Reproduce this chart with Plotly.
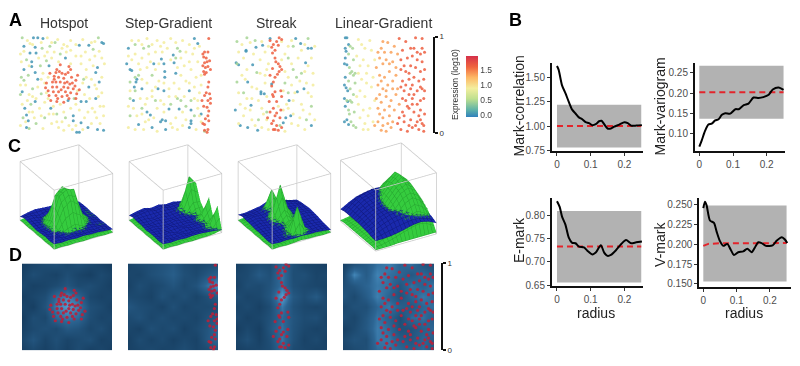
import itertools
import plotly.graph_objects as go

W, H = 800, 366
# ---------- Panel A / D point positions (percent of unit square)
hot_blue = [(17,99),(22,99),(28,98),(19,89),(13,83),(20,83),(15,74),(15,69),(6,66),(19,63),(22,56),(4,43),(19,33),(7,26),(9,19),(11,13),(9,6),(37,26),(67,1),(70,1),(80,6),(91,4),(98,3),(72,11),(63,18),(63,13),(78,33),(89,36),(93,53),(89,63),(91,68),(81,48),(70,91),(81,91),(96,94),(98,93),(54,78),(72,33),(57,34),(6,90),(35,70)]
hot_green = [(4,99),(27,88),(36,90),(42,94),(9,76),(3,58),(6,55),(11,60),(32,75),(2,40),(16,46),(26,41),(12,5),(5,16),(20,10),(44,20),(54,16),(64,36),(75,56),(92,99),(86,87),(48,82),(25,70),(14,30),(30,16)]
hot_pale = [(10,96),(33,99),(45,97),(52,92),(60,96),(74,97),(88,95),(6,85),(16,92),(26,94),(33,84),(41,84),(50,88),(60,86),(66,80),(77,84),(93,85),(3,74),(23,78),(28,62),(38,78),(46,74),(60,72),(72,72),(82,76),(96,78),(86,70),(8,50),(12,40),(22,48),(30,52),(32,42),(78,66),(74,52),(84,56),(96,58),(90,46),(96,42),(76,40),(85,26),(94,28),(98,18),(4,30),(12,22),(24,26),(30,32),(40,28),(48,30),(60,26),(70,24),(80,22),(90,16),(84,10),(74,4),(58,8),(46,6),(38,10),(28,5),(18,16),(35,20),(50,12),(2,8),(16,38),(44,12),(66,8),(94,10),
            (13,93),(38,94),(56,90),(66,92),(84,94),(2,82),(12,70),(30,80),(55,84),(72,80),(88,80),(99,72),(26,56),(34,58),(78,58),(88,50),(2,50),(10,34),(20,36),(34,36),(68,44),(82,36),(92,38),(8,12),(16,22),(26,18),(40,20),(52,22),(66,30),(76,16),(88,22),(52,3),(62,4),(98,28)]
hot_red = [(44,66),(47,64),(43,63),(57,63),(54,61),(60,66),(41,59),(46,58),(52,57),(61,58),(66,55),(39,53),(43,53),(48,53),(56,53),(59,51),(65,49),(39,48),(44,48),(52,48),(57,47),(63,46),(70,45),(40,43),(46,43),(54,43),(60,42),(67,41),(43,39),(50,38),(56,39),(35,39),(37,34),(49,45),(53,52),(45,36),(62,52),(50,62),(41,56),(58,36),(32,52),(31,47),(36,62),(48,71),(58,69),(68,60),(66,36),(44,33),(52,32),(34,44)]

step_blue = [(80,98),(84,93),(2,88),(0,72),(4,66),(6,65),(32,72),(44,72),(41,77),(55,81),(56,73),(45,64),(45,58),(12,56),(11,53),(9,48),(18,46),(37,46),(44,44),(74,44),(8,34),(62,25),(50,25),(76,24),(76,13),(76,10),(28,19),(14,9),(30,6),(40,12),(42,14),(46,13),(46,4),(74,6),(88,20),(24,22),(58,62)]
step_green = [(10,92),(26,90),(20,88),(60,88),(58,78),(63,85),(30,60),(10,58),(14,60),(4,53),(10,44),(4,36),(64,34),(60,36),(70,28),(18,26),(76,34),(80,18),(52,30),(34,34),(4,18),(92,2)]
step_pale = [(6,96),(14,96),(24,98),(36,96),(44,94),(52,98),(66,96),(74,92),(86,90),(10,82),(18,78),(26,82),(34,84),(42,84),(48,88),(70,84),(78,82),(84,74),(88,60),(6,76),(16,66),(24,68),(34,66),(68,70),(76,66),(82,58),(64,60),(56,52),(70,54),(24,52),(30,44),(38,54),(50,46),(62,46),(80,48),(86,42),(16,36),(24,36),(40,34),(50,38),(80,36),(12,18),(26,14),(36,26),(44,22),(58,16),(66,22),(84,26),(2,6),(10,4),(20,4),(36,2),(54,6),(66,8),(82,4),(88,12),
             (18,92),(30,92),(40,90),(58,94),(80,88),(2,80),(14,72),(28,74),(52,76),(64,78),(74,74),(60,68),(38,72),(4,44),(18,56),(34,48),(44,52),(74,52),(88,50),(8,26),(22,30),(30,38),(44,30),(58,38),(68,38),(84,34),(2,28),(22,12),(32,16),(52,10),(60,4),(70,14),(86,18),(18,20)]
step_red = [(97,98),(92,84),(96,84),(91,79),(94,78),(92,73),(96,69),(93,68),(91,64),(94,63),(92,61),(97,53),(96,48),(92,39),(89,34),(96,34),(99,31),(95,27),(97,23),(93,15),(97,13),(92,9),(96,4),(92,3),(95,1),(90,70),(98,75),(90,82),(95,74),(99,66),(94,42),(98,41),(91,28),(96,18),(90,10),(99,36)]

streak_blue = [(15,85),(6,71),(17,53),(33,43),(37,41),(21,29),(2,24),(8,8),(29,3),(63,16),(67,34),(77,43),(85,46),(87,73),(90,88),(94,88),(75,98),(81,93),(35,91),(27,89),(15,86),(44,98),(23,71),(46,51),(69,18),(60,11),(94,8),(17,6),(3,73),(33,41)]
streak_green = [(4,95),(16,99),(26,96),(90,98),(72,90),(66,78),(72,66),(82,62),(62,52),(76,58),(66,42),(28,63),(4,53),(12,42),(40,22),(30,14),(56,8),(88,14),(94,28),(4,72)]
streak_pale = [(10,92),(34,95),(58,95),(66,90),(82,86),(12,78),(24,82),(38,84),(42,72),(62,82),(78,78),(94,78),(32,62),(38,60),(62,64),(86,64),(96,62),(10,60),(22,48),(38,52),(60,44),(70,50),(88,52),(96,50),(6,42),(16,36),(30,34),(40,38),(64,30),(72,34),(82,30),(94,38),(8,30),(12,18),(20,24),(34,26),(40,14),(60,24),(72,20),(78,8),(86,4),(92,20),(6,10),(22,14),(34,6),(42,4),(62,2),(70,10),(80,16),(98,14),
               (20,94),(42,90),(70,96),(86,92),(98,90),(6,84),(32,76),(58,76),(70,72),(90,70),(16,66),(40,66),(66,58),(80,54),(28,46),(14,56),(74,42),(90,42),(22,36),(36,20),(26,8),(66,26),(84,24),(54,28),(14,26)]
streak_red = [(55,99),(52,95),(48,92),(46,89),(54,91),(50,86),(47,83),(50,78),(56,69),(55,64),(53,61),(50,58),(48,53),(46,49),(50,43),(48,38),(52,33),(48,26),(52,21),(50,18),(56,16),(48,13),(52,8),(48,4),(54,3),(50,4),(58,97),(44,96),(51,74),(54,72),(58,66),(47,67),(44,60),(47,40),(57,44),(58,38),(43,33),(44,22),(57,24),(46,10),(58,6),(41,16)]

lin_blue = [(2,99),(4,99),(6,92),(2,88),(3,85),(2,78),(1,72),(4,71),(2,58),(1,50),(3,47),(5,44),(1,36),(5,33),(2,28),(4,14),(1,12),(6,9)]
lin_green = [(8,90),(11,88),(6,82),(12,76),(7,68),(10,64),(14,62),(8,62),(12,60),(6,54),(14,52),(8,46),(12,40),(4,34),(8,34),(10,32),(13,22),(7,20),(9,12),(12,8),(15,6),(6,24)]
lin_pale = [(18,97),(22,92),(26,88),(16,80),(24,76),(30,70),(18,62),(22,56),(28,52),(34,48),(20,44),(26,38),(18,30),(24,24),(32,26),(20,16),(26,10),(30,4),(36,12),(38,34),(38,76),(34,86),(32,96),(20,70),(28,62),(16,38),(30,18),(36,58),(24,4)]
lin_orange = [(42,84),(46,88),(40,68),(48,72),(52,76),(44,60),(50,58),(56,64),(42,50),(48,46),(54,50),(60,54),(40,36),(46,32),(52,38),(58,34),(44,20),(50,24),(56,18),(42,12),(48,8),(54,10),(60,12),(38,8),(46,3),(52,2),(62,24),(60,74),(62,90),(54,94),(48,95),(58,84),(66,46),(64,40),(68,30),(44,78),(50,84),(56,72),(46,54),(52,44),(44,40),(56,28),(48,16),(42,26),(58,6),(64,60),(60,46),(66,82),(64,68)]
lin_red = [(68,98),(76,95),(88,99),(96,98),(72,86),(82,88),(70,76),(78,78),(84,80),(90,76),(96,74),(94,82),(99,84),(70,66),(76,64),(82,70),(88,68),(94,64),(99,66),(72,54),(80,56),(86,58),(92,54),(98,56),(74,44),(82,46),(90,44),(96,46),(76,34),(84,36),(90,30),(98,36),(72,22),(80,26),(86,22),(94,24),(99,20),(74,12),(82,14),(90,12),(96,10),(70,4),(78,2),(84,6),(92,4),(98,2),(99,44),(86,88),(74,70),(80,62),(90,84),(96,88),(70,48),(76,50),(84,50),(94,48),(80,40),(86,40),(94,34),(78,28),(84,30),(92,18),(74,18),(80,8),(88,8),(94,14),(98,8),(66,10),(68,16),(72,36)]

v_blue, v_green, v_pale, v_orange, v_red = 0.03, 0.45, 0.9, 1.35, 1.65
panel_titles = ["Hotspot", "Step-Gradient", "Streak", "Linear-Gradient"]

# ---------- Panel C surfaces: rows are y=0..1, columns x=0..1
grid3d = [0, .125, .25, .375, .5, .625, .75, .875, 1]
hot_g = [[.0,.01,.0,.01,.0,.01,.01,.0,.01],[.01,.03,.03,.02,.03,.04,.03,.03,.02],[.0,.02,.06,.12,.16,.10,.03,.04,.03],[.01,.03,.12,.40,.50,.40,.10,.03,.02],[.0,.02,.16,.55,.62,.60,.16,.04,.03],[.01,.04,.12,.50,.62,.50,.12,.03,.04],[.0,.03,.06,.18,.26,.18,.06,.03,.03],[.01,.04,.03,.04,.06,.04,.03,.04,.03],[.01,.03,.04,.03,.04,.03,.04,.03,.03]]
hot_b = [[.09,.08,.09,.08,.09,.08,.08,.07,.06],[.08,.10,.07,.09,.07,.09,.06,.08,.05],[.09,.06,.09,.06,.10,.07,.09,.05,.05],[.08,.08,.06,.10,.09,.08,.06,.08,.04],[.07,.06,.09,.07,.10,.08,.07,.06,.05],[.08,.08,.06,.09,.07,.07,.09,.06,.04],[.09,.09,.06,.08,.10,.06,.08,.06,.05],[.10,.11,.08,.11,.07,.10,.07,.08,.05],[.07,.10,.12,.11,.10,.12,.10,.07,.04]]
step_g = [[.0,.01,.0,.01,.0,.01,.01,.02,.05],[.01,.03,.02,.03,.02,.03,.03,.12,.39],[.0,.02,.03,.02,.03,.02,.03,.08,.14],[.01,.02,.02,.03,.02,.03,.05,.16,.41],[.0,.03,.03,.02,.03,.02,.03,.08,.12],[.01,.02,.02,.03,.02,.03,.08,.24,.22],[.0,.03,.03,.02,.03,.06,.18,.62,.46],[.01,.02,.02,.03,.02,.03,.07,.20,.14],[.01,.03,.03,.02,.03,.02,.03,.05,.03]]
step_b = [[.09,.08,.09,.08,.09,.09,.08,.07,.05],[.08,.09,.06,.09,.07,.08,.06,.07,.06],[.09,.07,.09,.06,.10,.07,.09,.07,.06],[.09,.09,.06,.10,.07,.09,.07,.09,.07],[.08,.10,.08,.07,.10,.08,.09,.08,.06],[.10,.08,.11,.09,.08,.10,.08,.11,.08],[.10,.11,.09,.12,.10,.11,.12,.12,.08],[.11,.13,.15,.12,.14,.11,.12,.11,.07],[.09,.12,.14,.11,.13,.10,.11,.08,.04]]
streak_g = [[.0,.01,.0,.01,.02,.01,.01,.0,.01],[.01,.03,.03,.12,.52,.14,.03,.03,.02],[.0,.02,.03,.08,.24,.09,.04,.03,.03],[.01,.03,.02,.07,.16,.08,.03,.02,.03],[.0,.02,.05,.14,.28,.14,.05,.03,.02],[.01,.03,.06,.24,.65,.22,.05,.03,.03],[.0,.02,.05,.14,.22,.14,.04,.02,.02],[.01,.03,.06,.18,.45,.16,.05,.03,.03],[.01,.02,.03,.06,.10,.06,.03,.02,.02]]
streak_b = [[.09,.08,.09,.08,.09,.08,.08,.07,.05],[.08,.09,.07,.09,.08,.09,.07,.08,.06],[.09,.09,.09,.08,.10,.09,.09,.08,.07],[.10,.10,.09,.11,.09,.11,.10,.10,.09],[.10,.12,.10,.12,.13,.13,.12,.13,.10],[.11,.14,.12,.14,.15,.15,.15,.12,.11],[.12,.15,.14,.16,.18,.18,.15,.14,.10],[.13,.12,.14,.16,.20,.20,.17,.13,.09],[.10,.10,.12,.14,.19,.17,.14,.10,.07]]
lin_g = [[.02,.02,.02,.03,.03,.03,.03,.03,.03],[.03,.05,.10,.17,.25,.33,.38,.32,.18],[.03,.07,.14,.24,.36,.48,.54,.46,.28],[.03,.08,.17,.30,.44,.58,.64,.56,.34],[.03,.08,.18,.33,.48,.62,.70,.60,.36],[.03,.08,.18,.34,.50,.64,.74,.62,.36],[.03,.07,.16,.30,.46,.60,.72,.60,.34],[.03,.06,.13,.24,.38,.50,.58,.48,.28],[.02,.04,.08,.14,.22,.30,.36,.30,.16]]
lin_b = [[.17,.17,.18,.20,.23,.26,.27,.24,.18],[.18,.22,.27,.31,.33,.34,.32,.28,.22],[.20,.26,.32,.36,.38,.38,.36,.30,.24],[.21,.28,.35,.38,.36,.38,.38,.32,.26],[.22,.30,.36,.38,.38,.40,.40,.34,.27],[.22,.31,.38,.41,.42,.43,.42,.36,.28],[.22,.32,.40,.44,.46,.46,.43,.36,.28],[.22,.32,.40,.44,.46,.45,.42,.34,.26],[.20,.27,.33,.36,.38,.36,.33,.28,.20]]

# ---------- Panel D density maps: rows bottom to top
grid2d = [0, 12.5, 25, 37.5, 50, 62.5, 75, 87.5, 100]
dens_hot = [[.18,.28,.20,.30,.20,.32,.18,.26,.16],[.26,.42,.24,.36,.24,.30,.36,.20,.24],[.20,.30,.36,.30,.46,.40,.26,.34,.20],[.14,.34,.28,.60,.70,.62,.34,.24,.28],[.24,.18,.40,.72,.90,.74,.36,.30,.18],[.16,.26,.34,.62,.76,.58,.28,.22,.26],[.28,.20,.24,.32,.42,.30,.34,.26,.18],[.20,.34,.26,.22,.34,.24,.18,.30,.22],[.16,.24,.32,.36,.26,.36,.28,.20,.14]]
dens_step = [[.20,.24,.30,.22,.26,.34,.24,.30,.42],[.18,.32,.22,.30,.20,.28,.22,.44,.60],[.26,.20,.36,.28,.34,.20,.30,.42,.62],[.30,.38,.26,.34,.26,.30,.24,.38,.48],[.44,.34,.30,.22,.36,.24,.30,.30,.34],[.30,.28,.22,.38,.28,.36,.24,.36,.50],[.20,.34,.26,.32,.42,.30,.40,.66,.86],[.26,.24,.36,.42,.52,.36,.30,.44,.56],[.22,.30,.34,.40,.46,.32,.26,.30,.34]]
dens_streak = [[.18,.22,.26,.32,.62,.30,.26,.20,.24],[.24,.36,.20,.36,.68,.38,.22,.30,.18],[.16,.28,.18,.42,.66,.40,.28,.22,.26],[.30,.20,.26,.38,.62,.42,.32,.36,.20],[.22,.30,.20,.34,.70,.38,.28,.24,.30],[.34,.24,.28,.44,.92,.46,.34,.48,.26],[.20,.34,.30,.40,.66,.36,.30,.26,.22],[.26,.30,.48,.36,.68,.34,.36,.24,.28],[.18,.28,.34,.32,.62,.36,.24,.22,.18]]
dens_lin = [[.22,.30,.36,.62,.66,.60,.52,.62,.40],[.28,.40,.34,.70,.68,.50,.44,.60,.50],[.18,.30,.46,.72,.62,.38,.40,.54,.62],[.34,.26,.44,.68,.56,.34,.62,.66,.48],[.26,.38,.36,.60,.70,.54,.46,.60,.66],[.42,.30,.50,.74,.58,.40,.58,.70,.60],[.34,.44,.58,.70,.66,.44,.66,.56,.70],[.26,.78,.50,.76,.66,.60,.46,.62,.48],[.20,.36,.48,.66,.74,.58,.66,.42,.36]]

# ---------- Panel B curves
mc_r = [0,.005,.015,.025,.035,.045,.055,.065,.075,.085,.095,.105,.115,.125,.132,.14,.15,.16,.17,.185,.2,.21,.22,.235,.252]
mc_v = [1.62,1.58,1.42,1.34,1.25,1.17,1.13,1.09,1.07,1.04,1.03,1.01,1.02,1.05,1.055,1.02,.975,.975,.995,1.015,1.04,1.03,1.005,1.005,1.01]
mv_r = [0,.007,.017,.027,.037,.047,.057,.067,.077,.092,.107,.117,.132,.146,.161,.176,.19,.206,.218,.235,.25]
mv_v = [.067,.082,.106,.122,.124,.132,.135,.146,.15,.149,.16,.16,.17,.174,.189,.188,.19,.196,.209,.214,.208]
em_r = [0,.008,.015,.025,.035,.045,.055,.065,.08,.09,.105,.115,.13,.14,.15,.16,.175,.19,.205,.22,.235,.252]
em_v = [.83,.818,.797,.78,.752,.741,.74,.733,.731,.724,.716,.72,.736,.72,.713,.715,.725,.738,.747,.74,.742,.744]
vm_r = [0,.005,.01,.02,.032,.04,.05,.06,.072,.082,.092,.105,.12,.132,.145,.157,.165,.175,.188,.208,.22,.236,.245,.252]
vm_v = [.2455,.2537,.249,.23,.227,.216,.204,.198,.2005,.1935,.1865,.19,.191,.1945,.19,.1975,.2025,.2015,.198,.1985,.2045,.209,.206,.2015]
band_r = [0, .25]
mc_lo, mc_hi, mc_ref = .78, 1.22, 1.0
mv_lo, mv_hi, mv_ref = .136, .268, .202
em_lo, em_hi, em_ref = .656, .809, .733
vm_lo, vm_hi = .153, .249
vm_ref_r, vm_ref_v = [0, .015, .05, .25], [.198, .2005, .2012, .2015]

# ---------- Helpers
def X(p): return p / W
def Y(p): return 1 - p / H
def xdom(a, b): return [X(a), X(b)]
def ydom(t, b): return [Y(b), Y(t)]

fig = go.Figure()
layout = dict(width=W, height=H, margin=dict(l=0, r=0, t=0, b=0), paper_bgcolor="white", plot_bgcolor="white",
              showlegend=False, font=dict(family="Liberation Sans, Arial, sans-serif", color="#222"))
annots = []
def note(text, x, y, size, color="#222", bold=False, angle=0):
    annots.append(dict(text=f"<b>{text}</b>" if bold else text, x=X(x), y=Y(y), xref="paper", yref="paper",
                       showarrow=False, font=dict(size=size, color=color), textangle=angle,
                       xanchor="center", yanchor="middle"))

hidden = dict(visible=False, fixedrange=True)

# Panel A
a_boxes = [(17, 107), (125, 213), (232, 318), (342, 427)]
a_sets = [[(hot_blue, v_blue), (hot_green, v_green), (hot_pale, v_pale), (hot_red, v_red)],
          [(step_blue, v_blue), (step_green, v_green), (step_pale, v_pale), (step_red, v_red)],
          [(streak_blue, v_blue), (streak_green, v_green), (streak_pale, v_pale), (streak_red, v_red)],
          [(lin_blue, v_blue), (lin_green, v_green), (lin_pale, v_pale), (lin_orange, v_orange), (lin_red, v_red)]]
title_x = [64, 168, 276, 383]
for i, (box, groups) in enumerate(zip(a_boxes, a_sets)):
    n = i + 1
    px, py, pv = [], [], []
    for pts, v in groups:
        px += [p[0] for p in pts]; py += [p[1] for p in pts]; pv += [v] * len(pts)
    fig.add_trace(go.Scatter(x=px, y=py, mode="markers", xaxis=f"x{n}", yaxis=f"y{n}", hoverinfo="skip", cliponaxis=False,
                             marker=dict(size=3, color=pv, coloraxis="coloraxis", opacity=.85, line=dict(width=0))))
    layout[f"xaxis{n}"] = dict(hidden, domain=xdom(*box), range=[-2, 102], anchor=f"y{n}")
    if n < 4:
        layout[f"yaxis{n}"] = dict(hidden, domain=ydom(32.5, 133.5), range=[-1, 101], anchor=f"x{n}")
    else:
        layout[f"yaxis{n}"] = dict(domain=ydom(33.5, 132.5), range=[0, 100], anchor="free", position=X(434), side="right",
                                   showgrid=False, zeroline=False, showline=True, linecolor="#111", linewidth=2,
                                   ticks="outside", ticklen=3, tickwidth=2, tickcolor="#111", tickvals=[0, 100],
                                   ticktext=["0", "1"], tickfont=dict(size=8, color="#333"), fixedrange=True)
    note(panel_titles[i], title_x[i], 19.5, 14, color="#333")

layout["coloraxis"] = dict(cmin=-.07, cmax=1.97,
    colorscale=[[0, "#2f80bd"], [.12, "#5fb3a8"], [.3, "#bfe08f"], [.47, "#f3ee9e"], [.65, "#fdb765"], [.82, "#f0653f"], [1, "#d5304a"]],
    colorbar=dict(thickness=12, lenmode="pixels", len=61, x=X(466), xanchor="left", y=Y(84.5), yanchor="middle",
                  tickvals=[0, .5, 1, 1.5], ticktext=["0.0", "0.5", "1.0", "1.5"], ticks="", outlinewidth=0,
                  tickfont=dict(size=8.5, color="#444"), xpad=0, ypad=0, ticklabelposition="outside"))
note("Expression (log10)", 455, 83, 8.5, color="#333", angle=-90)

# Panel C
scene_boxes = [(5, 128, 136.5, 259.5), (114, 237, 136.5, 259.5), (223, 346, 136.5, 259.5), (327, 450, 136.5, 259.5)]
surfaces = [(hot_g, hot_b), (step_g, step_b), (streak_g, streak_b), (lin_g, lin_b)]
cube_scale = [1.13, 1.13, 1.13, 1.17]
palette3d = (("#35cc3e", "#25a52f"), ("#1a29ad", "#10197f"))
edges = [(a, b) for a, b in itertools.combinations(list(itertools.product((0, 1), repeat=3)), 2)
         if sum(u != v for u, v in zip(a, b)) == 1]
fx, fy, fz = [], [], []
for a, b in edges:
    fx += [a[0], b[0], None]; fy += [a[1], b[1], None]; fz += [a[2], b[2], None]
for i, (box, (g, b), sc) in enumerate(zip(scene_boxes, surfaces, cube_scale)):
    name = "scene" if i == 0 else f"scene{i+1}"
    for z, (c, lc) in zip((g, b), palette3d):
        mesh = dict(show=True, start=0, end=1, size=.0625, color=lc, width=1, highlight=False)
        fig.add_trace(go.Surface(x=grid3d, y=grid3d, z=z, scene=name, showscale=False, hoverinfo="skip",
                                 colorscale=[[0, c], [1, c]], contours=dict(x=mesh, y=mesh),
                                 lighting=dict(ambient=1, diffuse=.25, specular=0, roughness=.9)))
    fig.add_trace(go.Scatter3d(x=fx, y=fy, z=fz, mode="lines", scene=name, hoverinfo="skip",
                               line=dict(color="#c9c9c9", width=1.5)))
    ax = dict(range=[0, 1], visible=False, showspikes=False)
    layout[name] = dict(domain=dict(x=xdom(box[0], box[1]), y=ydom(box[2], box[3])), xaxis=ax, yaxis=ax, zaxis=ax,
                        aspectmode="manual", aspectratio=dict(x=sc, y=sc, z=sc), bgcolor="rgba(0,0,0,0)", dragmode=False,
                        camera=dict(projection=dict(type="orthographic"), center=dict(x=0, y=0, z=0),
                                    eye=dict(x=-.95, y=-1.64, z=1.07), up=dict(x=0, y=0, z=1)))

# Panel D
d_boxes = [(22, 112), (128, 218), (236, 327), (343, 434)]
dens = [dens_hot, dens_step, dens_streak, dens_lin]
reds = [hot_red, step_red, streak_red, lin_orange + lin_red]
for i, (box, d, r) in enumerate(zip(d_boxes, dens, reds)):
    n = i + 5
    fig.add_trace(go.Heatmap(x=grid2d, y=grid2d, z=d, zmin=0, zmax=1, zsmooth="best", showscale=False, hoverinfo="skip",
                             colorscale=[[0, "#0f3050"], [.3, "#1d4a70"], [.6, "#2c6593"], [1, "#5fb0e6"]],
                             xaxis=f"x{n}", yaxis=f"y{n}"))
    fig.add_trace(go.Scatter(x=[p[0] for p in r], y=[p[1] for p in r], mode="markers", xaxis=f"x{n}", yaxis=f"y{n}",
                             hoverinfo="skip", marker=dict(size=3.2, color="#b9203a", opacity=.9, line=dict(width=0))))
    layout[f"xaxis{n}"] = dict(hidden, domain=xdom(*box), range=[0, 100], anchor=f"y{n}")
    if n < 8:
        layout[f"yaxis{n}"] = dict(hidden, domain=ydom(266, 355), range=[0, 100], anchor=f"x{n}")
    else:
        layout[f"yaxis{n}"] = dict(domain=ydom(266, 355), range=[0, 100], anchor="free", position=X(442), side="right",
                                   showgrid=False, zeroline=False, showline=True, linecolor="#111", linewidth=2,
                                   ticks="outside", ticklen=3, tickwidth=2, tickcolor="#111", tickvals=[0, 100],
                                   ticktext=["0", "1"], tickfont=dict(size=8, color="#333"), fixedrange=True)

# Panel B
b_panels = [
    dict(r=mc_r, v=mc_v, lo=mc_lo, hi=mc_hi, rr=band_r, rv=[mc_ref, mc_ref], xd=(552, 643), yd=(60, 151), xr=[-.0148, .2552], yr=[.74, 1.656],
         yt=[.75, 1, 1.25, 1.5], ytt=["0.75", "1.00", "1.25", "1.50"]),
    dict(r=mv_r, v=mv_v, lo=mv_lo, hi=mv_hi, rr=band_r, rv=[mv_ref, mv_ref], xd=(695, 785), yd=(60, 151), xr=[-.0128, .2543], yr=[.0554, .276],
         yt=[.1, .15, .2, .25], ytt=["0.10", "0.15", "0.20", "0.25"]),
    dict(r=em_r, v=em_v, lo=em_lo, hi=em_hi, rr=band_r, rv=[em_ref, em_ref], xd=(552, 643), yd=(199, 289), xr=[-.0148, .2552], yr=[.6486, .8368],
         yt=[.65, .7, .75, .8], ytt=["0.65", "0.70", "0.75", "0.80"]),
    dict(r=vm_r, v=vm_v, lo=vm_lo, hi=vm_hi, rr=vm_ref_r, rv=vm_ref_v, xd=(699.3, 791), yd=(199, 290), xr=[-.012, .2633], yr=[.1463, .2582],
         yt=[.15, .175, .2, .225, .25], ytt=["0.150", "0.175", "0.200", "0.225", "0.250"]),
]
for i, p in enumerate(b_panels):
    n = i + 9
    ax = dict(xaxis=f"x{n}", yaxis=f"y{n}", hoverinfo="skip")
    fig.add_trace(go.Scatter(x=band_r, y=[p["lo"]] * 2, mode="lines", line=dict(width=0), **ax))
    fig.add_trace(go.Scatter(x=band_r, y=[p["hi"]] * 2, mode="lines", line=dict(width=0), fill="tonexty", fillcolor="#b2b2b2", **ax))
    fig.add_trace(go.Scatter(x=p["rr"], y=p["rv"], mode="lines", line=dict(color="#e3242b", width=2, dash="6px,4px"), **ax))
    fig.add_trace(go.Scatter(x=p["r"], y=p["v"], mode="lines", line=dict(color="#000", width=2, shape="spline", smoothing=.7), **ax))
    common = dict(showgrid=False, zeroline=False, showline=True, linecolor="#111", linewidth=2, ticks="outside", ticklen=3,
                  tickwidth=1.2, tickcolor="#333", tickfont=dict(size=10, color="#4d4d4d"), fixedrange=True)
    layout[f"xaxis{n}"] = dict(common, domain=xdom(*p["xd"]), range=p["xr"], anchor=f"y{n}", tickvals=[0, .1, .2], ticktext=["0", "0.1", "0.2"])
    layout[f"yaxis{n}"] = dict(common, domain=ydom(*p["yd"]), range=p["yr"], anchor=f"x{n}", tickvals=p["yt"], ticktext=p["ytt"])

note("Mark-correlation", 519, 105, 14, angle=-90)
note("Mark-variogram", 660, 105, 14, angle=-90)
note("E-mark", 519, 242, 14, angle=-90)
note("V-mark", 660, 247, 14, angle=-90)
note("radius", 596, 317, 14)
note("radius", 744, 317, 14)

note("A", 15, 16, 18, color="#000", bold=True)
note("B", 515, 16, 18, color="#000", bold=True)
note("C", 14, 146, 18, color="#000", bold=True)
note("D", 15, 257, 18, color="#000", bold=True)

layout["annotations"] = annots
fig.update_layout(**layout)
fig.write_html("out.html", config=dict(displayModeBar=False),
               post_script="document.body.style.margin='0';")
